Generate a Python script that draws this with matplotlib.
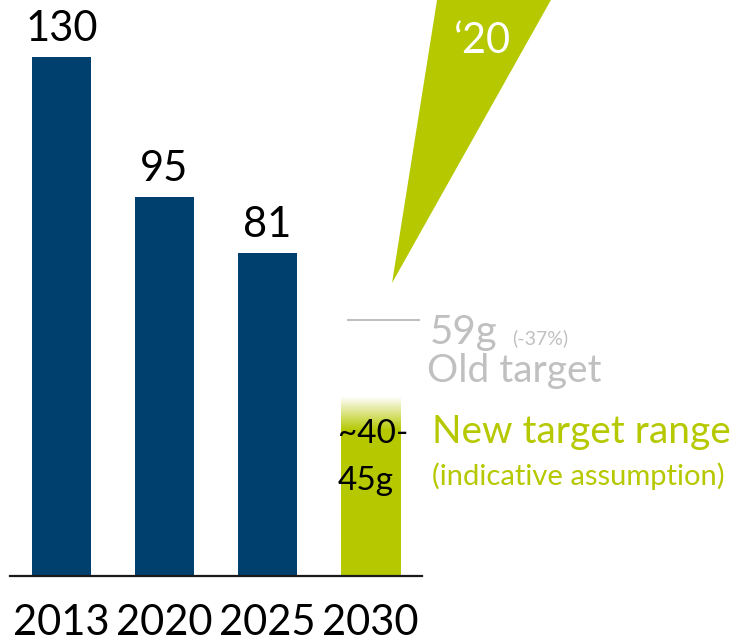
import numpy as np
import matplotlib
matplotlib.use("Agg")
import matplotlib.pyplot as plt
from matplotlib.patches import Polygon

# ---- data ----
years = ["2013", "2020", "2025", "2030"]
values = [130, 95, 81]
value_labels = ["130", "95", "81"]
new_target = 45
new_target_label = ["~40-", "45g"]
old_target = 59
old_target_label = "59g"
old_target_pct = "(-37%)"

# ---- style ----
NAVY = "#00406e"
GREEN = "#b5c800"
GREY = "#c0c0c0"
FONT = "Lato"
plt.rcParams["font.family"] = [FONT, "DejaVu Sans"]

W, H = 735, 642
fig = plt.figure(figsize=(W / 100, H / 100), dpi=100)
PX_PER_UNIT = 3.99
BASE_PX = 576
ax = fig.add_axes([10 / W, (H - BASE_PX) / H, 412 / W, BASE_PX / H])
for s in ["top", "left", "right"]:
    ax.spines[s].set_visible(False)
ax.spines["bottom"].set_color("#1a1a1a")
ax.spines["bottom"].set_linewidth(1.6)
ax.set_xticks([])
ax.set_yticks([])
ax.patch.set_alpha(0)

BW = 0.573
x = np.arange(len(years))
ax.bar(x[:3], values, width=BW, color=NAVY, zorder=2)

# gradient green bar
n = 200
yy = np.linspace(new_target, 0, n)
alpha = np.clip((new_target - yy) / 8.5, 0, 1)
rgb = matplotlib.colors.to_rgb(GREEN)
img = np.zeros((n, 1, 4))
img[:, 0, :3] = rgb
img[:, 0, 3] = alpha
ax.imshow(img, extent=[x[3] - BW / 2, x[3] + BW / 2, 0, new_target],
          aspect="auto", interpolation="bilinear", zorder=2)
ax.set_xlim(-0.5, 3.5)
ax.set_ylim(0, BASE_PX / PX_PER_UNIT)

# value labels
for xi, v, lab in zip(x[:3], values, value_labels):
    ax.annotate(lab, (xi, v), xytext=(0, 11.5), textcoords="offset points",
                ha="center", va="baseline", fontsize=30, color="black")

# year labels
for xi, lab in zip(x, years):
    ax.annotate(lab, (xi, 0), xytext=(0, -42.5), textcoords="offset points",
                ha="center", va="baseline", fontsize=30, color="black",
                annotation_clip=False)

# new target label inside bar
ax.text(2.684, 33.3, new_target_label[0], fontsize=24, color="black",
        ha="left", va="baseline", zorder=3)
ax.text(2.684, 21.55, new_target_label[1], fontsize=24, color="black",
        ha="left", va="baseline", zorder=3)

# old target line & labels
OLD_LINE_Y = 64.2
ax.plot([2.772, 3.481], [OLD_LINE_Y, OLD_LINE_Y], color=GREY, lw=1.5,
        clip_on=False, solid_capstyle="butt")
ax.text(3.578, 58.2, old_target_label, fontsize=29, color=GREY,
        ha="left", va="baseline")
ax.text(4.375, 58.2, old_target_pct, fontsize=14, color=GREY,
        ha="left", va="baseline")
ax.text(3.55, 48.6, "Old target", fontsize=28, color=GREY,
        ha="left", va="baseline")

# new target range label
ax.text(3.597, 33.3, "New target range", fontsize=28, color=GREEN,
        ha="left", va="baseline")
ax.text(3.597, 22.8, "(indicative assumption)", fontsize=21, color=GREEN,
        ha="left", va="baseline")

# green wedge
tri = Polygon([[3.677, 149.4], [4.861, 149.4], [3.209, 73.43]], closed=True,
              facecolor=GREEN, edgecolor="none", clip_on=False, zorder=1)
ax.add_patch(tri)
ax.text(4.092, 131.1, "\u201820", fontsize=30, color="white",
        ha="center", va="baseline", zorder=3)

fig.savefig("out.png", dpi=100)
